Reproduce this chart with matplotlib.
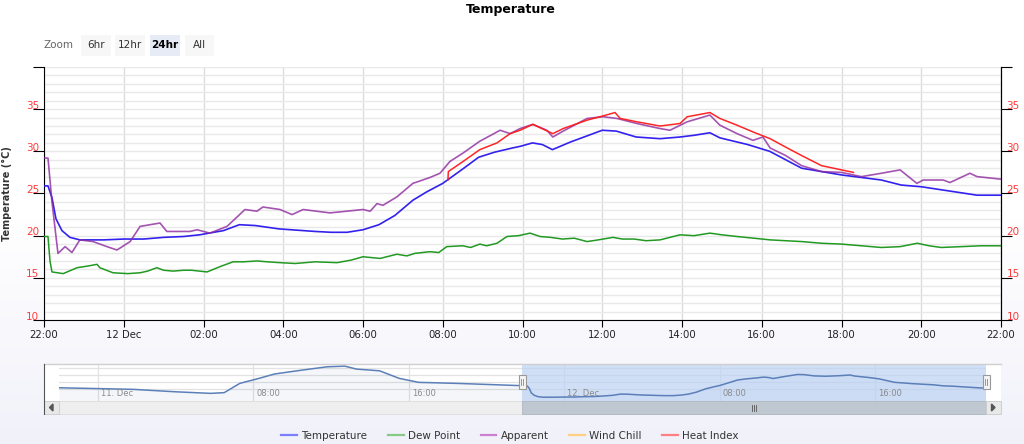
import numpy as np
import matplotlib
matplotlib.use('Agg')
import matplotlib.pyplot as plt
from matplotlib.patches import Rectangle, Polygon
from matplotlib.lines import Line2D
from matplotlib.ticker import MultipleLocator
from matplotlib.transforms import ScaledTranslation

W, H = 1024, 444

# main chart: hours after 22:00 on 11 Dec
temp_t = [0, 0.1, 0.2, 0.3, 0.45, 0.65, 0.9, 1.5, 2.0, 2.5, 3.0, 3.5, 3.9, 4.5, 4.9, 5.3,
          5.9, 6.2, 6.8, 7.2, 7.6, 8.0, 8.4, 8.8, 9.25, 9.6, 10.0, 10.5, 10.9, 11.3, 11.75,
          11.95, 12.25, 12.5, 12.75, 13.2, 13.6, 14.0, 14.35, 14.85, 15.45, 15.95, 16.3,
          16.7, 16.95, 17.3, 17.65, 18.2, 18.6, 19.0, 19.5, 20.0, 20.5, 21.0, 21.5, 22.0,
          22.7, 23.4, 24.0]
temp_v = [25.9, 25.9, 24.5, 22.0, 20.6, 19.8, 19.5, 19.5, 19.6, 19.6, 19.8, 19.9, 20.1, 20.6,
          21.3, 21.2, 20.8, 20.7, 20.5, 20.4, 20.4, 20.7, 21.3, 22.4, 24.2, 25.2, 26.2, 27.9,
          29.3, 29.9, 30.4, 30.6, 31.0, 30.8, 30.2, 31.1, 31.8, 32.5, 32.4, 31.7, 31.5, 31.7,
          31.9, 32.2, 31.6, 31.2, 30.8, 30.0, 29.0, 28.0, 27.6, 27.2, 26.9, 26.6, 26.0, 25.8,
          25.3, 24.8, 24.8]

dew_t = [0, 0.1, 0.15, 0.2, 0.48, 0.83, 1.1, 1.33, 1.4, 1.73, 2.1, 2.41, 2.6, 2.83, 3.0, 3.24,
         3.5, 3.7, 4.09, 4.4, 4.74, 5.0, 5.34, 5.6, 5.92, 6.3, 6.8, 7.35, 7.7, 8.0, 8.43, 8.85,
         9.1, 9.3, 9.68, 9.9, 10.1, 10.5, 10.7, 10.93, 11.1, 11.36, 11.61, 11.9, 12.19, 12.44,
         12.7, 13.0, 13.3, 13.62, 13.9, 14.27, 14.5, 14.8, 15.1, 15.45, 15.7, 15.95, 16.3,
         16.7, 17.0, 17.38, 17.8, 18.21, 18.6, 19.0, 19.5, 20.0, 20.5, 21.0, 21.47, 21.9,
         22.2, 22.5, 23.0, 23.5, 24.0]
dew_v = [19.9, 19.9, 17.0, 15.7, 15.5, 16.2, 16.4, 16.6, 16.2, 15.6, 15.5, 15.6, 15.8, 16.2,
         15.9, 15.8, 15.9, 15.9, 15.7, 16.3, 16.9, 16.9, 17.0, 16.9, 16.8, 16.7, 16.9, 16.8,
         17.1, 17.5, 17.3, 17.8, 17.6, 17.9, 18.1, 18.0, 18.7, 18.8, 18.6, 19.0, 18.8, 19.1,
         19.9, 20.0, 20.3, 19.9, 19.8, 19.6, 19.7, 19.3, 19.5, 19.8, 19.6, 19.6, 19.4, 19.5,
         19.8, 20.1, 20.0, 20.3, 20.1, 19.9, 19.7, 19.5, 19.4, 19.3, 19.1, 19.0, 18.8, 18.6,
         18.7, 19.1, 18.8, 18.6, 18.7, 18.8, 18.8]

app_t = [0, 0.1, 0.2, 0.35, 0.53, 0.7, 0.9, 1.23, 1.58, 1.83, 2.16, 2.41, 2.91, 3.08, 3.66,
         3.84, 4.16, 4.59, 5.04, 5.34, 5.49, 5.92, 6.22, 6.5, 7.17, 8.0, 8.18, 8.35, 8.5,
         8.85, 9.25, 9.68, 9.93, 10.18, 10.51, 10.93, 11.44, 11.69, 11.94, 12.26, 12.61,
         12.76, 13.02, 13.62, 14.02, 14.37, 14.87, 15.45, 15.7, 16.13, 16.7, 16.95, 17.38,
         17.78, 18.03, 18.21, 18.6, 19.0, 19.5, 20.0, 20.5, 21.0, 21.47, 21.89, 22.05, 22.55,
         22.72, 23.22, 23.4, 24.0]
app_v = [29.2, 29.2, 24.0, 17.9, 18.7, 18.0, 19.5, 19.3, 18.7, 18.3, 19.3, 21.1, 21.5, 20.5,
         20.5, 20.7, 20.3, 21.1, 23.1, 22.9, 23.4, 23.1, 22.5, 23.1, 22.7, 23.1, 22.9, 23.8,
         23.6, 24.6, 26.2, 26.9, 27.4, 28.8, 29.8, 31.2, 32.5, 32.1, 32.7, 33.2, 32.5, 31.7,
         32.4, 33.9, 34.1, 33.9, 33.3, 32.7, 32.5, 33.5, 34.3, 33.1, 32.1, 31.3, 31.7, 30.4,
         29.5, 28.3, 27.6, 27.5, 27.0, 27.4, 27.8, 26.2, 26.6, 26.6, 26.3, 27.4, 27.0, 26.7]

heat_t = [10.13, 10.14, 10.51, 10.93, 11.36, 11.69, 11.94, 12.26, 12.76, 13.02, 13.62, 14.02,
          14.32, 14.45, 14.87, 15.45, 15.95, 16.13, 16.7, 16.95, 17.38, 17.78, 18.21, 18.6,
          19.0, 19.5, 20.0, 20.3]
heat_v = [26.6, 27.6, 28.8, 30.2, 31.0, 32.1, 32.5, 33.2, 32.1, 32.7, 33.7, 34.2, 34.6, 33.9,
          33.5, 33.0, 33.3, 34.1, 34.6, 33.9, 33.1, 32.3, 31.5, 30.5, 29.5, 28.3, 27.8, 27.5]

x_ticks = list(range(0, 25, 2))
x_labels = ['22:00', '12 Dec', '02:00', '04:00', '06:00', '08:00', '10:00', '12:00',
            '14:00', '16:00', '18:00', '20:00', '22:00']
y_ticks = list(range(10, 41, 5))
y_labels = ['10', '15', '20', '25', '30', '35', '']

# navigator: hours after 22:00 on 10 Dec (previous day of temperature)
nav_prev_t = [0, 3.8, 6.0, 7.8, 8.5, 9.3, 10.2, 11.1, 12.5, 13.8, 14.7, 15.3, 16.5, 17.5,
              18.5, 20.5, 23.8, 24.0]
nav_prev_v = [24.9, 24.0, 22.6, 21.7, 22.1, 27.4, 30.0, 32.8, 35.0, 36.9, 37.3, 35.6, 34.6,
              30.3, 28.0, 27.4, 26.1, 25.9]
nav_ticks = [2, 10, 18, 26, 34, 42]
nav_labels = ['11. Dec', '08:00', '16:00', '12. Dec', '08:00', '16:00']

legend_names = ['Temperature', 'Dew Point', 'Apparent', 'Wind Chill', 'Heat Index']
legend_colors = ['#7d7dff', '#88c888', '#cc80d0', '#ffd080', '#ff8080']

RED = '#ff3b3b'


def px_rect(x0, y0, x1, y1):
    return [x0 / W, 1 - y1 / H, (x1 - x0) / W, (y1 - y0) / H]


fig = plt.figure(figsize=(W / 100, H / 100), dpi=100)
plt.rcParams['font.family'] = ['DejaVu Sans']

# background gradient
bg = fig.add_axes([0, 0, 1, 1], zorder=-10)
grad = np.linspace(0, 1, 200)[:, None]
cmap = matplotlib.colors.LinearSegmentedColormap.from_list('bg', ['#ffffff', '#ffffff', '#f1f1fa'])
bg.imshow(grad, aspect='auto', cmap=cmap, extent=[0, 1, 0, 1])
bg.axis('off')

# main chart
ax = fig.add_axes(px_rect(44, 67, 1001, 320))
ax.set_facecolor('white')
ax.plot(temp_t, temp_v, color='#3322ee', lw=1.2, zorder=3)
ax.plot(dew_t, dew_v, color='#229922', lw=1.1, zorder=3)
ax.plot(app_t, app_v, color='#8e2a9e', lw=1.2, alpha=0.8, zorder=4)
ax.plot(heat_t, heat_v, color='#ff1a1a', lw=1.1, alpha=0.95, zorder=5)
ax.set_xlim(0, 24)
ax.set_ylim(10, 40)
ax.set_xticks(x_ticks)
ax.set_xticklabels(x_labels)
ax.set_yticks(y_ticks)
ax.set_yticklabels(y_labels)
ax.yaxis.set_minor_locator(MultipleLocator(1))
ax.grid(axis='y', which='both', color='#e9e9e9', lw=1.0, zorder=0)
ax.grid(axis='x', which='major', color='#dcdcdc', lw=1.0, zorder=0)
ax.set_axisbelow(True)
ax.spines['top'].set_visible(False)
for s in ['left', 'bottom', 'right']:
    ax.spines[s].set_color('black')
ax.tick_params(axis='x', length=5, color='black', labelsize=7.3, labelcolor='#222222', pad=2)
ax.tick_params(axis='y', which='major', length=8, color='black', labelsize=7.5,
               labelcolor=RED, pad=-4.5)
ax.tick_params(axis='y', which='minor', length=0)
ax.set_ylabel('Temperature (°C)', fontsize=7, fontweight='bold', color='#333333')
ax.yaxis.set_label_coords(-0.033, 0.5)

ax2 = ax.twinx()
ax2.set_ylim(10, 40)
ax2.set_yticks(y_ticks)
ax2.set_yticklabels(y_labels)
ax2.tick_params(axis='y', length=8, color='black', labelsize=7.5, labelcolor=RED, pad=-4)
for s in ['top', 'left', 'bottom']:
    ax2.spines[s].set_visible(False)

shift = ScaledTranslation(0, 0.045, fig.dpi_scale_trans)
for lab in ax.get_yticklabels() + ax2.get_yticklabels():
    lab.set_transform(lab.get_transform() + shift)

# title and zoom buttons
fig.text(511 / W, 1 - 10 / H, 'Temperature', ha='center', va='center', fontsize=9,
         fontweight='bold', color='#000000')
fig.text(43 / W, 1 - 45.5 / H, 'Zoom', ha='left', va='center', fontsize=7.5, color='#666666')

deco = fig.add_axes([0, 0, 1, 1], zorder=5)
deco.set_xlim(0, W)
deco.set_ylim(H, 0)
deco.axis('off')
deco.patch.set_alpha(0)
buttons = [('6hr', 81, 111, False), ('12hr', 115, 145, False), ('24hr', 150, 180, True),
           ('All', 185, 214, False)]
for name, x0, x1, sel in buttons:
    deco.add_patch(Rectangle((x0, 35), x1 - x0, 21, facecolor='#e6ebf5' if sel else '#f7f7f7',
                             edgecolor='none'))
    deco.text((x0 + x1) / 2, 45.5, name, ha='center', va='center', fontsize=7.5,
              fontweight='bold' if sel else 'normal', color='#000000' if sel else '#333333')

# navigator
NX0, NX1, NY0, NY1 = 59, 986, 364, 400.7
nav = fig.add_axes(px_rect(NX0, NY0, NX1, NY1), zorder=2)
nav.set_facecolor('white')
nav_t = nav_prev_t + [t + 24 for t in temp_t]
nav_v = nav_prev_v + temp_v
nav.set_xlim(0, 47.7)
nav.set_ylim(17.5, 38.5)
nav.fill_between(nav_t, nav_v, 17.5, color='#4572a7', alpha=0.06, lw=0)
nav.axvspan(23.8, 47.7, color='#bcd2f3', alpha=0.7, lw=0, zorder=2)
nav.plot(nav_t, nav_v, color='#5b7fb8', lw=1.1, zorder=3)
nav.set_yticks([24, 28, 32, 36])
nav.set_xticks(nav_ticks)
nav.grid(axis='both', color='#e2e2e2', lw=0.9)
nav.set_axisbelow(True)
nav.tick_params(length=0, labelleft=False, labelbottom=False)
for t, lab in zip(nav_ticks, nav_labels):
    nav.text(t + 0.15, 0.2, lab, transform=nav.get_xaxis_transform(), ha='left', va='center',
             fontsize=6, color='#8a8a8a', zorder=4)
for s in nav.spines.values():
    s.set_visible(False)

# navigator frame, handles, scrollbar
deco.plot([44, 1001], [NY0, NY0], color='#cfcfcf', lw=1)
deco.plot([44, 44], [NY0, 414], color='#555555', lw=0.8)
deco.add_patch(Rectangle((44, NY0), 15, NY1 - NY0, facecolor='white', edgecolor='none'))
deco.add_patch(Rectangle((986, NY0), 15, NY1 - NY0, facecolor='white', edgecolor='none'))
for hx in [522, 986]:
    deco.add_patch(Rectangle((hx - 3.5, 375), 7, 14, facecolor='#f4f4f4', edgecolor='#999999',
                             lw=0.8))
    for dx in (-1.2, 1.2):
        deco.plot([hx + dx, hx + dx], [379, 385], color='#888888', lw=0.6)
deco.add_patch(Rectangle((44, NY1), 957, 414 - NY1, facecolor='#eeeeee', edgecolor='#dddddd',
                         lw=0.6))
deco.add_patch(Rectangle((522, NY1), 986 - 522, 414 - NY1, facecolor='#bfc8d0',
                         edgecolor='#b0b8c0', lw=0.6))
for bx in [44, 986]:
    deco.add_patch(Rectangle((bx, NY1), 15, 414 - NY1, facecolor='#e8e8e8', edgecolor='#cccccc',
                             lw=0.6))
deco.add_patch(Polygon([[53, 404], [53, 411], [49.5, 407.5]], closed=True, color='#555555'))
deco.add_patch(Polygon([[991.5, 404], [991.5, 411], [995, 407.5]], closed=True, color='#555555'))
for gx in (-2, 0, 2):
    deco.plot([754 + gx, 754 + gx], [404.5, 410.5], color='#555555', lw=0.6)

# legend
handles = [Line2D([0], [0], color=c, lw=1.6) for c in legend_colors]
fig.legend(handles, legend_names, loc='center', bbox_to_anchor=(510 / W, 1 - 436 / H),
           ncol=5, frameon=False, fontsize=7.5, handlelength=1.5, handletextpad=0.4,
           columnspacing=2.0, labelcolor='#333333')

fig.savefig('out.png', dpi=100)
